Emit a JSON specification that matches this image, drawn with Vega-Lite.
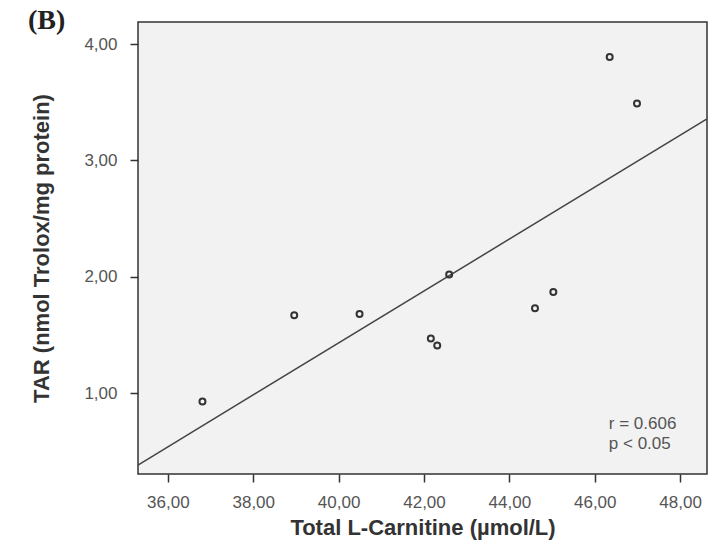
{
  "$schema": "https://vega.github.io/schema/vega-lite/v6.json",
  "width": 569,
  "height": 452,
  "autosize": "none",
  "padding": {"left": 138, "top": 22, "right": 17, "bottom": 76},
  "background": "white",
  "title": {"text": "(B)", "anchor": "start", "frame": "group", "dx": -110, "offset": -13, "font": "Liberation Serif", "fontSize": 28, "fontWeight": "bold", "color": "#222"},
  "config": {
    "view": {"fill": "#f2f2f2", "stroke": "#333", "strokeWidth": 1.5},
    "axis": {"grid": false, "domain": false, "tickColor": "#333", "tickWidth": 1.5, "tickSize": 8, "labelFont": "Liberation Sans", "labelFontSize": 17, "labelColor": "#555", "titleFont": "Liberation Sans", "titleFontWeight": "bold", "titleColor": "#333"}
  },
  "datasets": {
    "points": [
      {"carnitine": 36.81, "tar": 0.93},
      {"carnitine": 38.96, "tar": 1.67},
      {"carnitine": 40.49, "tar": 1.68},
      {"carnitine": 42.59, "tar": 2.02},
      {"carnitine": 42.16, "tar": 1.47},
      {"carnitine": 42.31, "tar": 1.41},
      {"carnitine": 44.6, "tar": 1.73},
      {"carnitine": 45.03, "tar": 1.87},
      {"carnitine": 46.35, "tar": 3.89},
      {"carnitine": 46.99, "tar": 3.49}
    ],
    "fit": [
      {"carnitine": 35.3, "tar": 0.383},
      {"carnitine": 48.63, "tar": 3.358}
    ],
    "note": [
      {"carnitine": 46.33, "tar": 0.735, "label": "r = 0.606"},
      {"carnitine": 46.33, "tar": 0.56, "label": "p < 0.05"}
    ]
  },
  "layer": [
    {
      "data": {"name": "fit"},
      "mark": {"type": "line", "color": "#444", "strokeWidth": 1.5, "clip": true},
      "encoding": {
        "x": {"field": "carnitine", "type": "quantitative", "scale": {"domain": [35.3, 48.63], "nice": false, "zero": false},
          "axis": {"values": [36, 38, 40, 42, 44, 46, 48], "labelExpr": "replace(format(datum.value, '.2f'), '.', ',')", "title": "Total L-Carnitine (µmol/L)", "titleFontSize": 22, "labelPadding": 12, "titlePadding": 7}},
        "y": {"field": "tar", "type": "quantitative", "scale": {"domain": [0.306, 4.19], "nice": false, "zero": false},
          "axis": {"values": [1, 2, 3, 4], "labelExpr": "replace(format(datum.value, '.2f'), '.', ',')", "title": "TAR (nmol Trolox/mg protein)", "titleFontSize": 22, "labelPadding": 13, "titlePadding": 30}}
      }
    },
    {
      "data": {"name": "points"},
      "mark": {"type": "point", "shape": "circle", "filled": false, "size": 36, "stroke": "#333", "strokeWidth": 2, "opacity": 1},
      "encoding": {
        "x": {"field": "carnitine", "type": "quantitative"},
        "y": {"field": "tar", "type": "quantitative"}
      }
    },
    {
      "data": {"name": "note"},
      "mark": {"type": "text", "align": "left", "baseline": "middle", "font": "Liberation Sans", "fontSize": 17, "color": "#555"},
      "encoding": {
        "x": {"field": "carnitine", "type": "quantitative"},
        "y": {"field": "tar", "type": "quantitative"},
        "text": {"field": "label"}
      }
    }
  ]
}
